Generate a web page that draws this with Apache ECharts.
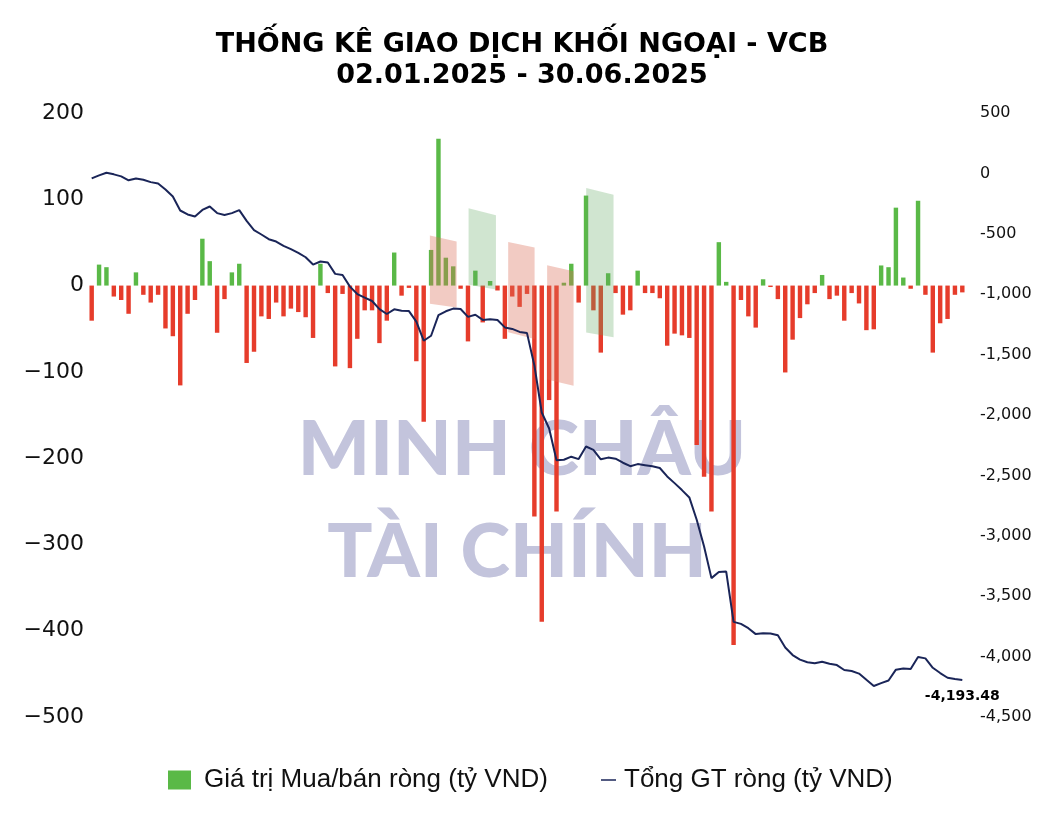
<!DOCTYPE html>
<html><head><meta charset="utf-8">
<script src="https://cdn.jsdelivr.net/npm/echarts@6/dist/echarts.min.js"></script>
<style>html,body{margin:0;padding:0;background:#fff}#c{width:1044px;height:814px}</style>
</head><body><div id="c"></div>
<script>
// Trading days 02.01.2025 - 30.06.2025
const categories = [
 '02/01','03/01','06/01','07/01','08/01','09/01','10/01','13/01','14/01','15/01','16/01','17/01','20/01','21/01','22/01','23/01','24/01',
 '03/02','04/02','05/02','06/02','07/02','10/02','11/02','12/02','13/02','14/02','17/02','18/02','19/02','20/02','21/02','24/02','25/02','26/02','27/02','28/02',
 '03/03','04/03','05/03','06/03','07/03','10/03','11/03','12/03','13/03','14/03','17/03','18/03','19/03','20/03','21/03','24/03','25/03','26/03','27/03','28/03','31/03',
 '01/04','02/04','03/04','04/04','08/04','09/04','10/04','11/04','14/04','15/04','16/04','17/04','18/04','21/04','22/04','23/04','24/04','25/04','28/04','29/04',
 '05/05','06/05','07/05','08/05','09/05','12/05','13/05','14/05','15/05','16/05','19/05','20/05','21/05','22/05','23/05','26/05','27/05','28/05','29/05','30/05',
 '02/06','03/06','04/06','05/06','06/06','09/06','10/06','11/06','12/06','13/06','16/06','17/06','18/06','19/06','20/06','23/06','24/06','25/06','26/06','27/06','30/06'
];
// Net buy/sell value per day (tỷ VND)
const netValues = [
 -40.7,24.3,21.3,-12.7,-16.7,-32.7,15.3,-10.7,-19.7,-10.7,
 -49.7,-58.7,-115.7,-32.7,-16.7,54.3,28.3,-54.7,-15.7,15.3,
 25.3,-89.7,-76.7,-35.7,-38.7,-19.7,-35.7,-26.7,-30.7,-36.7,
 -60.7,25.3,-8.7,-93.7,-9.7,-95.7,-61.7,-28.7,-28.7,-66.7,
 -40.7,38.3,-11.7,-2.7,-87.7,-157.7,41.3,170.3,32.3,22.3,
 -3.7,-64.7,17.3,-42.7,5.3,-5.7,-61.7,-12.7,-24.7,-9.7,
 -267.7,-389.7,-132.7,-261.7,3.3,25.3,-19.7,104.3,-28.7,-77.7,
 14.3,-8.7,-33.7,-28.7,17.3,-8.7,-8.7,-14.7,-69.7,-55.7,
 -57.7,-60.7,-184.7,-221.7,-261.7,50.3,4.3,-416.7,-16.7,-35.7,
 -48.7,7.3,-1.7,-15.7,-100.7,-62.7,-37.7,-21.7,-8.7,12.3,
 -15.7,-11.7,-40.7,-8.7,-20.7,-51.7,-50.7,23.3,21.3,90.3,
 9.3,-3.7,98.3,-10.7,-77.7,-43.7,-38.7,-10.7,-7.9
];
// Cumulative net value (tỷ VND)
const totalValues = [
 -40.7,-16.4,4.9,-7.8,-24.5,-57.2,-41.9,-52.6,-72.3,-83,
 -132.7,-191.4,-307.1,-339.8,-356.5,-302.2,-273.9,-328.6,-344.3,-329,
 -303.7,-393.4,-470.1,-505.8,-544.5,-564.2,-599.9,-626.6,-657.3,-694,
 -754.7,-729.4,-738.1,-831.8,-841.5,-937.2,-998.9,-1027.6,-1056.3,-1123,
 -1163.7,-1125.4,-1137.1,-1139.8,-1227.5,-1385.2,-1343.9,-1173.6,-1141.3,-1119,
 -1122.7,-1187.4,-1170.1,-1212.8,-1207.5,-1213.2,-1274.9,-1287.6,-1312.3,-1322,
 -1589.7,-1979.4,-2112.1,-2373.8,-2370.5,-2345.2,-2364.9,-2260.6,-2289.3,-2367,
 -2352.7,-2361.4,-2395.1,-2423.8,-2406.5,-2415.2,-2423.9,-2438.6,-2508.3,-2564,
 -2621.7,-2682.4,-2867.1,-3088.8,-3350.5,-3300.2,-3295.9,-3712.6,-3729.3,-3765,
 -3813.7,-3806.4,-3808.1,-3823.8,-3924.5,-3987.2,-4024.9,-4046.6,-4055.3,-4043,
 -4058.7,-4070.4,-4111.1,-4119.8,-4140.5,-4192.2,-4242.9,-4219.6,-4198.3,-4108,
 -4098.7,-4102.4,-4004.1,-4014.8,-4092.5,-4136.2,-4174.9,-4185.6,-4193.48
];
const leftAxis = { min: -500, max: 200, interval: 100 };
const rightAxis = { min: -4500, max: 500, interval: 500 };
const barName = 'Giá trị Mua/bán ròng (tỷ VND)';
const lineName = 'Tổng GT ròng (tỷ VND)';
// Highlight boxes (category index, left-axis values)
const shadeKind   = ['sell','buy','sell','sell','buy'];
const shadeFrom   = [45.84, 51.08, 56.45, 61.73, 67.02];
const shadeTo     = [49.46, 54.79, 60.03, 65.31, 70.73];
const shadeTopL   = [58, 89.6, 50.6, 23.5, 113];
const shadeTopR   = [51, 81.5, 44, 16.6, 105.4];
const shadeBotL   = [-21, 1, -54, -109, -54.5];
const shadeBotR   = [-25.5, -4.6, -62, -116, -60];

const GREEN = '#5ab947', RED = '#e63c2b', NAVY = '#1a2558';
const chart = echarts.init(document.getElementById('c'), null, { renderer: 'canvas' });
const fmt = v => v.toLocaleString('en-US', { minimumFractionDigits: 2, maximumFractionDigits: 2 });

chart.setOption({
  animation: false,
  backgroundColor: '#fff',
  title: {
    text: 'THỐNG KÊ GIAO DỊCH KHỐI NGOẠI - VCB\n02.01.2025 - 30.06.2025',
    left: 'center', top: 24,
    textStyle: { fontFamily: 'DejaVu Sans', fontWeight: 'bold', fontSize: 27, lineHeight: 31, color: '#000' }
  },
  graphic: [
    { type: 'text', x: 522, y: 450, z: 0, silent: true,
      style: { text: 'MINH CHÂU', font: '900 76px Lato', fill: '#c3c4dc', textAlign: 'center', textVerticalAlign: 'middle' } },
    { type: 'text', x: 517, y: 553, z: 0, silent: true,
      style: { text: 'TÀI CHÍNH', font: '900 75px Lato', fill: '#c3c4dc', textAlign: 'center', textVerticalAlign: 'middle' } }
  ],
  legend: [
    { data: [{ name: barName, icon: 'rect' }], left: 163, top: 762, itemWidth: 23, itemHeight: 19,
      textStyle: { fontFamily: 'Liberation Sans', fontSize: 26, color: '#111', padding: [0, 0, 0, 8] } },
    { data: [{ name: lineName, icon: 'path://M0,0H20V2H0Z' }], left: 596, top: 762, itemWidth: 15, itemHeight: 19,
      textStyle: { fontFamily: 'Liberation Sans', fontSize: 26, color: '#111', padding: [0, 0, 0, 3] } }
  ],
  grid: { left: 88, right: 78, top: 113, bottom: 97, containLabel: false },
  xAxis: {
    type: 'category', data: categories, boundaryGap: true,
    axisLine: { show: false }, axisTick: { show: false }, axisLabel: { show: false }, splitLine: { show: false }
  },
  yAxis: [
    { type: 'value', min: leftAxis.min, max: leftAxis.max, interval: leftAxis.interval,
      axisLine: { show: false }, axisTick: { show: false }, splitLine: { show: false },
      axisLabel: { margin: 4, fontFamily: 'DejaVu Sans', fontSize: 22, color: '#111',
        formatter: v => String(v).replace('-', '\u2212') } },
    { type: 'value', min: rightAxis.min, max: rightAxis.max, interval: rightAxis.interval, position: 'right',
      axisLine: { show: false }, axisTick: { show: false }, splitLine: { show: false },
      axisLabel: { margin: 14, fontFamily: 'DejaVu Sans', fontSize: 16, color: '#111',
        formatter: v => v.toLocaleString('en-US') } }
  ],
  series: [
    { name: barName, type: 'bar', yAxisIndex: 0, barWidth: '60%', z: 2,
      itemStyle: { color: GREEN },
      data: netValues.map(v => ({ value: v, itemStyle: { color: v >= 0 ? GREEN : RED } })) },
    { name: 'shade', type: 'custom', yAxisIndex: 0, z: 3, silent: true,
      data: shadeKind.map((k, i) => [i, 0]),
      renderItem: function (params, api) {
        const i = params.dataIndex;
        const base = api.coord([0, 0]);
        const band = api.size([1, 0])[0];
        const x0 = base[0] + shadeFrom[i] * band;
        const x1 = base[0] + shadeTo[i] * band;
        const y = v => api.coord([0, v])[1];
        return {
          type: 'polygon',
          shape: { points: [[x0, y(shadeTopL[i])], [x1, y(shadeTopR[i])], [x1, y(shadeBotR[i])], [x0, y(shadeBotL[i])]] },
          style: { fill: shadeKind[i] === 'sell' ? 'rgba(220,110,90,0.36)' : 'rgba(100,170,100,0.3)' }
        };
      } },
    { name: lineName, type: 'line', yAxisIndex: 1, z: 4, symbol: 'none', showSymbol: false,
      lineStyle: { color: NAVY, width: 2 }, itemStyle: { color: NAVY },
      endLabel: { show: true, formatter: p => fmt(p.value), distance: 0, offset: [0, 16],
        align: 'center', verticalAlign: 'middle',
        fontFamily: 'DejaVu Sans', fontWeight: 'bold', fontSize: 14, color: '#000' },
      data: totalValues }
  ]
});
</script></body></html>
